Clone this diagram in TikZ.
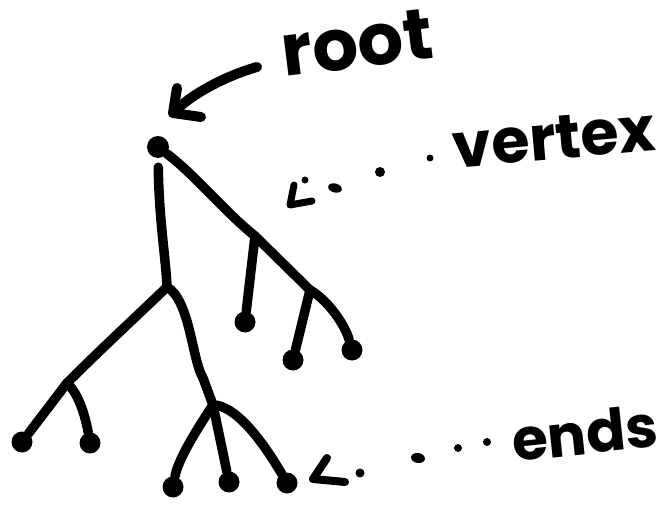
\documentclass[tikz,border=0pt]{standalone}
\usepackage{fontspec}
\newfontfamily\hand{Poppins}
\tikzset{
  branch/.style={line width=9.5pt, line cap=round, line join=round},
  leaf/.style={circle, fill=black, inner sep=0pt, minimum size=21pt},
  pointer/.style={line width=10pt, line cap=round, line join=round},
  tip/.style={line width=7pt, line cap=round, line join=round},
  speck/.style={fill=black},
  word/.style={font=\hand\bfseries, inner sep=0pt, text=black},
}
\begin{document}
\begin{tikzpicture}[x=1pt,y=-1pt]
\useasboundingbox (0,0) rectangle (665,506);

% ---- the tree ----
\node[leaf, minimum size=22pt] (root) at (158,147) {};
\coordinate (jA) at (167,287);   % first split of the trunk
\coordinate (jB) at (67,383);    % split on the left limb
\coordinate (jC) at (213,405);   % three-way split
\coordinate (vx) at (255,236);   % the marked vertex
\coordinate (jD) at (310,290);   % split below the vertex

\node[leaf] (l1) at (22,442) {};
\node[leaf] (l2) at (90,443) {};
\node[leaf] (l3) at (173,487) {};
\node[leaf] (l4) at (229,482) {};
\node[leaf] (l5) at (287,483) {};
\node[leaf] (l6) at (245,322) {};
\node[leaf] (l7) at (293,360) {};
\node[leaf] (l8) at (352,350) {};

% trunk and left side
\draw[branch, shorten <=9pt] (root) .. controls (159,220) and (166,260) .. (jA);
\draw[branch] (jA) .. controls (140,313) and (100,350) .. (jB);
\draw[branch] (jB) -- (l1);
\draw[branch] (jB) .. controls (80,395) and (86,420) .. (l2);
\draw[branch] (jA) .. controls (190,300) and (192,360) .. (203,378) -- (jC);
\draw[branch] (jC) .. controls (195,432) and (178,460) .. (l3);
\draw[branch] (jC) -- (l4);
\draw[branch] (jC) .. controls (235,405) and (262,440) .. (l5);

% right side
\draw[branch] (root) .. controls (195,175) and (225,212) .. (vx);
\draw[branch] (vx) -- (l6);
\draw[branch] (vx) -- (jD);
\draw[branch] (jD) -- (l7);
\draw[branch] (jD) .. controls (328,300) and (345,325) .. (l8);

% ---- labels ----
\node[word, font=\hand\bfseries\fontsize{72}{72}\selectfont, rotate=7] (lroot) at (357,43) {root};
\node[word, font=\hand\bfseries\fontsize{62}{62}\selectfont, rotate=5] (lvertex) at (554,138) {vertex};
\node[word, font=\hand\bfseries\fontsize{58}{58}\selectfont, rotate=6] (lends) at (585,433) {ends};

% arrow to the root
\coordinate (ra) at (257,67);
\coordinate (rt) at (173,113);
\coordinate (rb1) at (177,88);
\coordinate (rb2) at (201,117);
\draw[pointer] (ra) .. controls (225,76) and (190,95) .. (rt);
\draw[pointer] (rb1) -- (rt) -- (rb2);

% dotted pointer to the vertex
\coordinate (vt) at (290,205);
\draw[tip] (294,185) -- (vt) -- (312,201);
\fill[speck] (305,180) circle (3.5pt);
\fill[speck, rotate around={-15:(335,188)}] (335,188) ellipse (7pt and 4.5pt);
\fill[speck] (380,172) circle (5pt);
\fill[speck] (430,158) circle (3.5pt);

% dotted pointer to the ends
\coordinate (et) at (313,479);
\draw[tip, line width=8pt] (327,458) -- (et) -- (345,482);
\fill[speck] (360,473) circle (4.5pt);
\fill[speck, rotate around={-10:(418,458)}] (418,458) ellipse (7pt and 5pt);
\fill[speck] (458,448) circle (4pt);
\fill[speck] (487,442) circle (4pt);
\end{tikzpicture}
\end{document}
